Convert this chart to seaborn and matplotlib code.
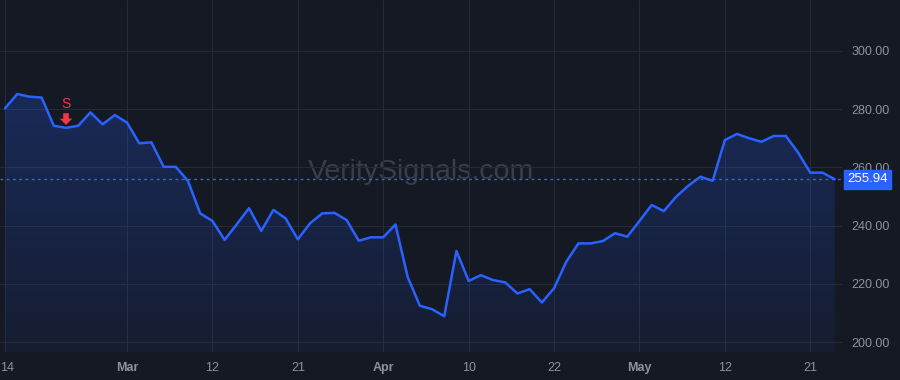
import numpy as np
import pandas as pd
import matplotlib
matplotlib.use("Agg")
import matplotlib.pyplot as plt
import matplotlib.transforms as mtransforms
import seaborn as sns
from matplotlib.colors import LinearSegmentedColormap

# ---- data ----
prices = [280.3, 285.2, 284.3, 284.0, 274.3, 273.6, 274.3, 278.9, 274.8, 278.0,
          275.4, 268.3, 268.6, 260.2, 260.2, 255.3, 244.2, 241.6, 235.1, 240.5,
          246.0, 238.2, 245.4, 242.5, 235.3, 240.8, 244.2, 244.4, 241.9, 234.8,
          236.0, 236.0, 240.4, 222.4, 212.5, 211.3, 208.9, 231.3, 221.0, 223.0,
          221.3, 220.5, 216.7, 218.2, 213.6, 218.5, 227.6, 233.9, 233.9, 234.7,
          237.4, 236.2, 241.6, 247.1, 245.0, 249.9, 253.7, 256.8, 255.4, 269.4,
          271.5, 270.0, 268.8, 270.8, 270.8, 265.1, 258.2, 258.2, 255.94]
tick_index = [0, 10, 17, 24, 31, 38, 45, 52, 59, 66]
tick_labels = ["14", "Mar", "12", "21", "Apr", "10", "22", "May", "12", "21"]
month_labels = {"Mar", "Apr", "May"}
y_ticks = [200, 220, 240, 260, 280, 300]
signal_index = 5
signal_label = "S"
last_price = prices[-1]
watermark = "VeritySignals.com"

BG = "#151924"
GRID = "#252a36"
LINE = "#2962ff"
TXT = "#8e929b"
RED = "#f23645"

df = pd.DataFrame({"i": np.arange(len(prices)), "price": prices})

sns.set_theme(style="dark")
plt.rcParams["font.family"] = ["Liberation Sans", "DejaVu Sans"]

fig = plt.figure(figsize=(9, 3.8), dpi=100, facecolor=BG)
ax = fig.add_axes([0, 28 / 380, 842 / 900, 352 / 380])
ax.set_facecolor(BG)

ymin, ymax = 196.6, 317.5
xmin, xmax = -0.41, 68.6
ax.set_xlim(xmin, xmax)
ax.set_ylim(ymin, ymax)

# gradient fill under the line
poly = ax.fill_between(df["i"], df["price"], ymin, color="none", lw=0)
cmap = LinearSegmentedColormap.from_list(
    "g", [(0.16, 0.38, 1.0, 0.06), (0.16, 0.38, 1.0, 0.24)])
grad = np.linspace(0, 1, 256).reshape(-1, 1)
im = ax.imshow(grad, cmap=cmap, aspect="auto", origin="lower",
               extent=[df["i"].min(), df["i"].max(), ymin, max(prices)],
               zorder=1)
im.set_clip_path(poly.get_paths()[0], transform=ax.transData)

sns.lineplot(data=df, x="i", y="price", ax=ax, color=LINE, lw=1.8, zorder=3)

# last price dotted line
ax.axhline(last_price, color=LINE, lw=1, ls=(0, (2, 2.5)), zorder=2)

# grid
ax.set_xticks(tick_index)
ax.set_yticks(y_ticks)
ax.grid(True, color=GRID, lw=0.8)
ax.set_axisbelow(True)
for s in ax.spines.values():
    s.set_visible(False)

ax.yaxis.tick_right()
ax.tick_params(axis="y", length=0, pad=7, labelcolor=TXT, labelsize=9)
ax.set_yticklabels([f"{v:.2f}" for v in y_ticks])
ax.tick_params(axis="x", length=0, pad=7, labelcolor=TXT, labelsize=9)
ax.set_xticklabels(tick_labels)
for lab in ax.get_xticklabels():
    if lab.get_text() in month_labels:
        lab.set_fontweight("bold")
ax.set_xlabel("")
ax.set_ylabel("")

# first tick label sits at the left edge, left-aligned
first = ax.xaxis.get_major_ticks()[0].label1
first.set_horizontalalignment("left")
first.set_transform(first.get_transform() +
                    mtransforms.ScaledTranslation(-4.5 / 100, 0, fig.dpi_scale_trans))

# price tag
ax.annotate(f"{last_price:.2f}", xy=(1.0, last_price),
            xycoords=("axes fraction", "data"),
            xytext=(4, 0), textcoords="offset points",
            ha="left", va="center", color="white", fontsize=9.5,
            bbox=dict(boxstyle="square,pad=0.25", fc=LINE, ec=LINE),
            annotation_clip=False, zorder=10)

# signal marker
ax.text(signal_index, 281.8, signal_label, color=RED, fontsize=10,
        ha="center", va="center", zorder=5)
ax.annotate("", xy=(signal_index, 274.6), xytext=(signal_index, 278.6),
            arrowprops=dict(arrowstyle="simple,head_width=0.9,head_length=0.45,tail_width=0.4",
                            mutation_scale=10, fc=RED, ec=RED, lw=0,
                            shrinkA=0, shrinkB=0), zorder=5)

# watermark
ax.text(0.5, 0.51, watermark, transform=ax.transAxes, ha="center", va="center",
        color="#3a3e4a", fontsize=20.5, zorder=0.5)

fig.savefig("out.png", dpi=100, facecolor=BG)
